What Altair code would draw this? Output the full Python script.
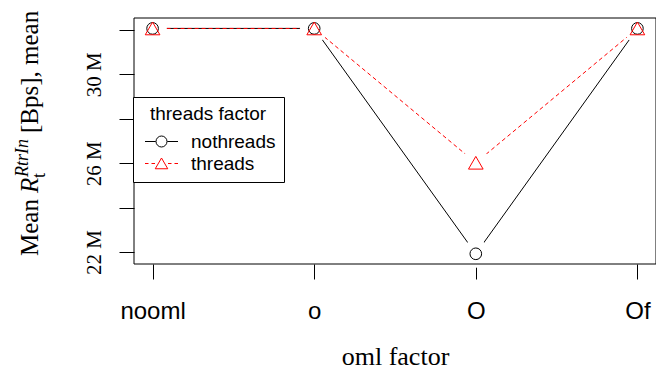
import altair as alt
import pandas as pd

# ---- data ----
oml_levels = ["nooml", "o", "O", "Of"]
threads_levels = ["nothreads", "threads"]
mean_nothreads = [32.07, 32.07, 21.92, 32.07]   # millions of Bps
mean_threads = [32.07, 32.07, 26.02, 32.07]
y_ticks = [22, 24, 26, 28, 30, 32]

df = pd.DataFrame({
    "oml": oml_levels * 2,
    "threads": ["nothreads"] * len(oml_levels) + ["threads"] * len(oml_levels),
    "mean": mean_nothreads + mean_threads,
})
one = pd.DataFrame({"k": [0]})

W, H = 522, 246

x_enc = alt.X(
    "oml:N", sort=oml_levels,
    scale=alt.Scale(type="point", domain=oml_levels, padding=0.115),
    axis=alt.Axis(
        title="oml factor", labelAngle=0, labelFont="Liberation Sans",
        labelFontSize=24, labelColor="black", labelBaseline="alphabetic",
        labelPadding=39, tickSize=15, tickColor="black", tickWidth=1,
        domain=False, grid=False, labelOverlap=False,
        titleFont="Liberation Serif", titleFontSize=26, titleFontWeight="normal",
        titleColor="black", titleX=W / 2, titleY=100, titleAlign="center",
        titleBaseline="alphabetic",
    ),
)
y_enc = alt.Y(
    "mean:Q",
    scale=alt.Scale(domain=[21.46, 32.54], nice=False, zero=False),
    axis=alt.Axis(
        title=None, values=y_ticks,
        labelExpr="datum.value % 4 == 2 ? datum.value + ' M' : ''",
        labelAngle=270, labelAlign="center", labelBaseline="alphabetic",
        labelPadding=19, labelFont="Liberation Serif", labelFontSize=21,
        labelColor="black", tickSize=15, tickColor="black", tickWidth=1,
        domain=False, grid=False, labelOverlap=False,
    ),
)

base = alt.Chart(df)

line_no = base.transform_filter("datum.threads == 'nothreads'").mark_line(
    color="black", strokeWidth=1).encode(x=x_enc, y=y_enc)
line_th = base.transform_filter("datum.threads == 'threads'").mark_line(
    color="red", strokeWidth=1, strokeDash=[4, 3]).encode(x=x_enc, y=y_enc)

halo = base.mark_point(filled=True, shape="circle", size=784, color="white",
                       opacity=1, strokeWidth=0).encode(x=x_enc, y=y_enc)

pts_no = base.transform_filter("datum.threads == 'nothreads'").mark_point(
    shape="circle", size=135, filled=False, color="black", opacity=1,
    strokeWidth=1).encode(x=x_enc, y=y_enc)
pts_th = base.transform_filter("datum.threads == 'threads'").mark_point(
    shape="triangle-up", size=215, filled=False, color="red", opacity=1,
    strokeWidth=1).encode(x=x_enc, y=y_enc)

circle_sym = ("M-3.3,0L-1.15,0M1.15,0L3.3,0"
              "M1.1,0A1.1,1.1,0,1,1,-1.1,0A1.1,1.1,0,1,1,1.1,0Z")
tri_sym = ("M-3.3,0L-2.6,0M-2.0,0L-1.3,0M1.3,0L2.0,0M2.6,0L3.3,0"
           "M0,-1.1L1.25,1.05L-1.25,1.05Z")

leg = alt.Legend(
    orient="none", legendX=-1, legendY=79, direction="vertical",
    title="threads factor", titleFont="Liberation Sans", titleFontSize=19,
    titleFontWeight="normal", titleColor="black", titleAnchor="middle",
    titleAlign="center", titlePadding=8,
    labelFont="Liberation Sans", labelFontSize=19, labelColor="black",
    symbolSize=100, symbolStrokeWidth=1, symbolOpacity=1,
    symbolOffset=11, labelOffset=20, rowPadding=2,
    padding=8, strokeColor="black", fillColor="white",
)
legend_layer = base.transform_filter("false").mark_point(
    filled=False, opacity=1, strokeWidth=1).encode(
    color=alt.Color("threads:N", scale=alt.Scale(domain=threads_levels, range=["black", "red"]), legend=leg),
    shape=alt.Shape("threads:N", scale=alt.Scale(domain=threads_levels, range=[circle_sym, tri_sym]), legend=leg),
)

frame = alt.Chart(one).mark_rect(fillOpacity=0, stroke="black", strokeWidth=1).encode(
    x=alt.value(0), x2=alt.value(W), y=alt.value(0), y2=alt.value(H))


def piece(text, x, y, size, style="normal"):
    return alt.Chart(one).mark_text(
        text=text, angle=270, align="left", baseline="alphabetic",
        font="Liberation Serif", fontSize=size, fontStyle=style, color="black",
    ).encode(x=alt.value(x), y=alt.value(y))


ox, oy = 134, 18
ytitle = [
    piece("Mean", 38 - ox, 256 - oy, 25),
    piece("R", 38 - ox, 193 - oy, 25, "italic"),
    piece("RtrIn", 28 - ox, 177 - oy, 18, "italic"),
    piece("t", 45 - ox, 178 - oy, 18),
    piece("[Bps], mean", 38 - ox, 133 - oy, 25),
]

chart = alt.layer(
    line_no, line_th, halo, pts_no, pts_th, frame, legend_layer, *ytitle
).properties(
    width=W, height=H,
    padding={"left": 126, "top": 10, "right": 0, "bottom": 108},
    autosize=alt.AutoSizeParams(type="none"),
    background="white",
).configure_view(stroke="transparent")

chart.save("out.html", embed_options={"renderer": "svg", "actions": False})
